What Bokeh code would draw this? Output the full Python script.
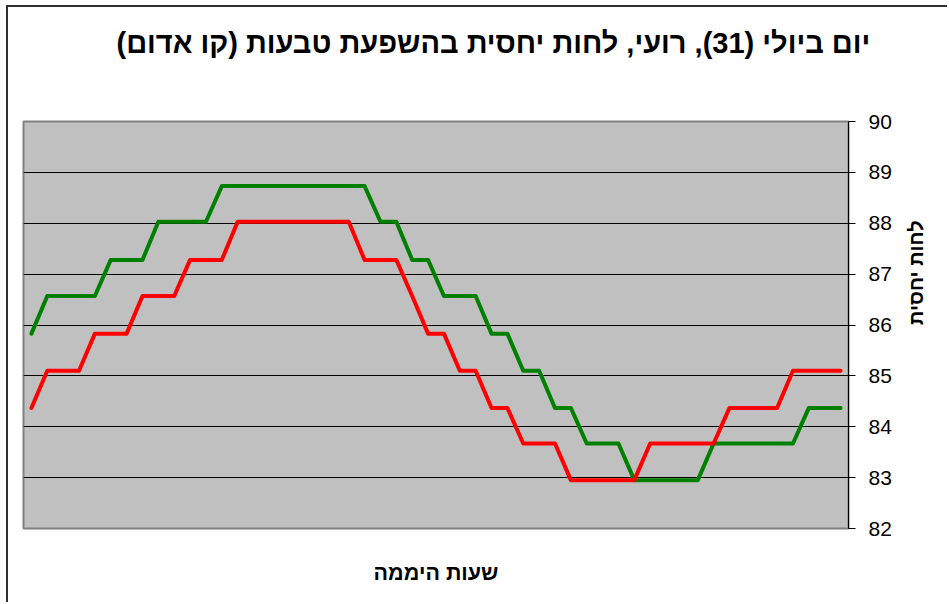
import math
from bokeh.plotting import figure
from bokeh.models import Range1d, FixedTicker, ColumnDataSource
from bokeh.embed import file_html
from bokeh.resources import INLINE

# ---- data ----
title_text = "יום ביולי (31), רועי, לחות יחסית בהשפעת טבעות (קו אדום)"
x_label = "שעות היממה"
y_label = "לחות יחסית"

hours_idx = list(range(52))
red_values = ([84.37] + [85.10] * 3 + [85.83] * 3 + [86.57] * 3 + [87.28] * 3 +
              [88.03] * 8 + [87.28] * 3 + [86.57] + [85.83] * 2 + [85.10] * 2 +
              [84.37] * 2 + [83.67] * 3 + [82.95] * 5 + [83.67] * 5 + [84.37] * 4 +
              [85.10] * 4)
green_values = ([85.83] + [86.57] * 4 + [87.28] * 3 + [88.03] * 4 + [88.73] * 10 +
                [88.03] * 2 + [87.28] * 2 + [86.57] * 3 + [85.83] * 2 + [85.10] * 2 +
                [84.37] * 2 + [83.67] * 3 + [82.95] * 5 + [83.67] * 6 + [84.37] * 3)
y_ticks = [82, 83, 84, 85, 86, 87, 88, 89, 90]

src = ColumnDataSource(dict(x=hours_idx, red=red_values, green=green_values))

p = figure(width=941, height=597, output_backend="svg", toolbar_location=None,
           x_range=Range1d(-0.5, len(hours_idx) - 0.5), y_range=Range1d(y_ticks[0], y_ticks[-1]),
           y_axis_location="right", title=title_text + "\n ")

p.styles = {"margin-left": "6px", "margin-top": "5px",
            "border-left": "2px solid #303030", "border-top": "2px solid #303030"}

p.min_border_left = 15
p.min_border_right = 101
p.min_border_top = 114
p.min_border_bottom = 76

p.background_fill_color = "#C0C0C0"
p.border_fill_color = "white"
p.outline_line_color = "#808080"
p.outline_line_width = 2

# title
p.title.text_font = "Liberation Sans"
p.title.text_font_size = "29px"
p.title.text_font_style = "bold"
p.title.text_line_height = 1.4
p.title.align = "left"
p.title.offset = 93
p.title.standoff = 35
p.title.text_color = "black"

# grid
p.xgrid.grid_line_color = None
p.ygrid.grid_line_color = "black"
p.ygrid.grid_line_width = 1

# y axis (right)
ya = p.yaxis[0]
ya.ticker = FixedTicker(ticks=y_ticks)
ya.axis_line_color = "black"
ya.axis_line_width = 1
ya.major_tick_line_color = "black"
ya.major_tick_out = 7
ya.major_tick_in = 0
ya.minor_tick_line_color = None
ya.major_label_text_font = "Liberation Sans"
ya.major_label_text_font_size = "21px"
ya.major_label_text_color = "black"
ya.major_label_standoff = 13
ya.axis_label = y_label
ya.axis_label_text_font = "Liberation Sans"
ya.axis_label_text_font_size = "20px"
ya.axis_label_text_font_style = "bold"
ya.axis_label_text_color = "black"
ya.axis_label_standoff = 21
try:
    ya.axis_label_orientation = math.pi / 2
except Exception:
    pass

# x axis
xa = p.xaxis[0]
xa.ticker = FixedTicker(ticks=[])
xa.axis_line_color = None
xa.major_tick_line_color = None
xa.minor_tick_line_color = None
xa.major_label_text_font_size = "0px"
xa.axis_label = x_label
xa.axis_label_text_font = "Liberation Sans"
xa.axis_label_text_font_size = "21.5px"
xa.axis_label_text_font_style = "bold"
xa.axis_label_text_color = "black"
xa.axis_label_standoff = 32

p.line("x", "green", source=src, line_color="#008000", line_width=4, line_join="round", line_cap="round")
p.line("x", "red", source=src, line_color="#FF0000", line_width=4, line_join="round", line_cap="round")

open("out.html", "w").write(file_html(p, INLINE))
